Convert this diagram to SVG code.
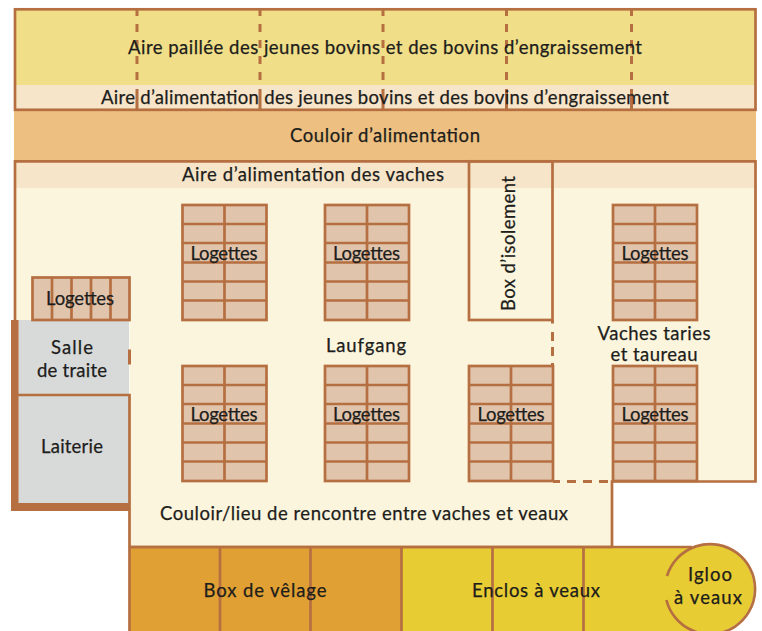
<svg xmlns="http://www.w3.org/2000/svg" xmlns:xlink="http://www.w3.org/1999/xlink" width="762" height="631" viewBox="0 0 762 631">
<style>
text{font-family:"Lato","Liberation Sans",sans-serif;font-size:18.5px;fill:#1d1d1b;stroke:#1d1d1b;stroke-width:.25;text-anchor:middle}
.l{fill:none;stroke:#b56f41;stroke-width:2.7}
.d{fill:none;stroke:#b56f41;stroke-width:3}
.c{fill:#e1c4ac;stroke:#b56f41;stroke-width:2.7}
</style>
<defs>
<g id="stalls">
<rect class="c" x="0" y="0" width="84" height="115"/>
<path class="l" d="M42 0V115M0 19H84M0 38H84M0 57.500H84M0 76.500H84M0 95.500H84"/>
</g>
<path id="dash" d="M0 9V16M0 24V32M0 40V48M0 56V64M0 72V80M0 89V110"/>
</defs>
<rect width="762" height="631" fill="#fff"/>
<g id="fonds">
<rect x="14" y="9" width="742" height="76" fill="#f1de88"/>
<rect x="14" y="85" width="742" height="25" fill="#f7e5ca"/>
<rect x="14" y="111" width="742" height="49" fill="#edbf80"/>
<path d="M15 161H755.500V481.500H612V547H129.500V320H15Z" fill="#fcf5dd"/>
<rect x="15" y="161" width="740" height="27" fill="#f7e5ca"/>
<rect x="18" y="320" width="111" height="75" fill="#d8d9d9"/>
<rect x="18" y="395" width="111" height="109" fill="#d8d9d9"/>
<rect x="130" y="548" width="272" height="83" fill="#e1a033"/>
<path d="M402 548H700L710 589V631H402Z" fill="#e8cc33"/>
</g>
<g id="connecteurs">
<rect class="l" x="15" y="9.300" width="740.500" height="100.500"/>
<path class="l" d="M15 320V161.300H755.500V481.500H612V547M129.500 547H612"/>
<path d="M11 320H18.500V503H129V511H11Z" fill="#b56f41"/>
<path class="l" d="M18 395H129.500V631"/>
<rect x="128" y="349.500" width="3" height="15" fill="#b56f41"/>
<use xlink:href="#dash" class="d" x="137"/>
<use xlink:href="#dash" class="d" x="260"/>
<use xlink:href="#dash" class="d" x="383"/>
<use xlink:href="#dash" class="d" x="506.500"/>
<use xlink:href="#dash" class="d" x="631.500"/>
<path class="d" d="M552.500 320V323.500M552.500 332V341M552.500 347V356M552.500 363V370"/>
<path class="d" d="M553 481.500H560M567 481.500H576M583 481.500H592M599 481.500H608"/>
<path class="l" d="M129.500 547H692M220 547V631M310.500 547V631M401.500 547V631M492.500 547V631M583.500 547V631"/>
</g>
<g id="aire-paillee">
<text x="385" y="54" textLength="514" lengthAdjust="spacing">Aire paillée des jeunes bovins et des bovins d’engraissement</text>
</g>
<g id="aire-alimentation-jeunes">
<text x="385" y="104" textLength="568" lengthAdjust="spacing">Aire d’alimentation des jeunes bovins et des bovins d’engraissement</text>
</g>
<g id="couloir-alimentation">
<text x="385" y="142" textLength="190" lengthAdjust="spacing">Couloir d’alimentation</text>
</g>
<g id="aire-alimentation-vaches">
<text x="313" y="181" textLength="262" lengthAdjust="spacing">Aire d’alimentation des vaches</text>
</g>
<g id="laufgang">
<text x="366" y="352" textLength="80" lengthAdjust="spacing">Laufgang</text>
</g>
<g id="vaches-taries">
<text x="654" y="340" textLength="113" lengthAdjust="spacing">Vaches taries</text>
<text x="654" y="361" textLength="87" lengthAdjust="spacing">et taureau</text>
</g>
<g id="couloir-rencontre">
<text x="364" y="520" textLength="408" lengthAdjust="spacing">Couloir/lieu de rencontre entre vaches et veaux</text>
</g>
<g id="salle-de-traite">
<text x="72" y="354" textLength="42" lengthAdjust="spacing">Salle</text>
<text x="72" y="377" textLength="70" lengthAdjust="spacing">de traite</text>
</g>
<g id="laiterie">
<text x="72" y="453" textLength="62" lengthAdjust="spacing">Laiterie</text>
</g>
<g id="logettes-traite">
<rect class="c" x="32.500" y="277.500" width="97" height="42.500"/>
<path class="l" d="M52 277.500V320M71.500 277.500V320M91 277.500V320M110.500 277.500V320"/>
<text x="80" y="305" textLength="68" lengthAdjust="spacing">Logettes</text>
</g>
<g id="logettes-1"><use xlink:href="#stalls" x="182.500" y="205"/><text x="224" y="260" textLength="67" lengthAdjust="spacing">Logettes</text></g>
<g id="logettes-2"><use xlink:href="#stalls" x="325" y="205"/><text x="366.500" y="260" textLength="67" lengthAdjust="spacing">Logettes</text></g>
<g id="logettes-3"><use xlink:href="#stalls" x="613" y="205"/><text x="655" y="260" textLength="67" lengthAdjust="spacing">Logettes</text></g>
<g id="logettes-4"><use xlink:href="#stalls" x="182.500" y="366"/><text x="224" y="421" textLength="67" lengthAdjust="spacing">Logettes</text></g>
<g id="logettes-5"><use xlink:href="#stalls" x="325" y="366"/><text x="366.500" y="421" textLength="67" lengthAdjust="spacing">Logettes</text></g>
<g id="logettes-6"><use xlink:href="#stalls" x="469" y="366"/><text x="511" y="421" textLength="67" lengthAdjust="spacing">Logettes</text></g>
<g id="logettes-7"><use xlink:href="#stalls" x="613" y="366"/><text x="655" y="421" textLength="67" lengthAdjust="spacing">Logettes</text></g>
<g id="box-isolement">
<rect class="l" x="469" y="161.300" width="83.500" height="158.700"/>
<text transform="translate(515 243.500) rotate(-90)" x="0" y="0" textLength="135" lengthAdjust="spacing">Box d’isolement</text>
</g>
<g id="box-velage">
<text x="265" y="597" textLength="123" lengthAdjust="spacing">Box de vêlage</text>
</g>
<g id="enclos-veaux">
<text x="536" y="597" textLength="128" lengthAdjust="spacing">Enclos à veaux</text>
</g>
<g id="igloo">
<circle cx="710" cy="589" r="44" fill="#e8cc33"/>
<path class="l" d="M667 576A45 45 0 1 1 666.400 600"/>
<text x="710" y="581" textLength="44" lengthAdjust="spacing">Igloo</text>
<text x="708" y="604" textLength="68" lengthAdjust="spacing">à veaux</text>
</g>
</svg>
